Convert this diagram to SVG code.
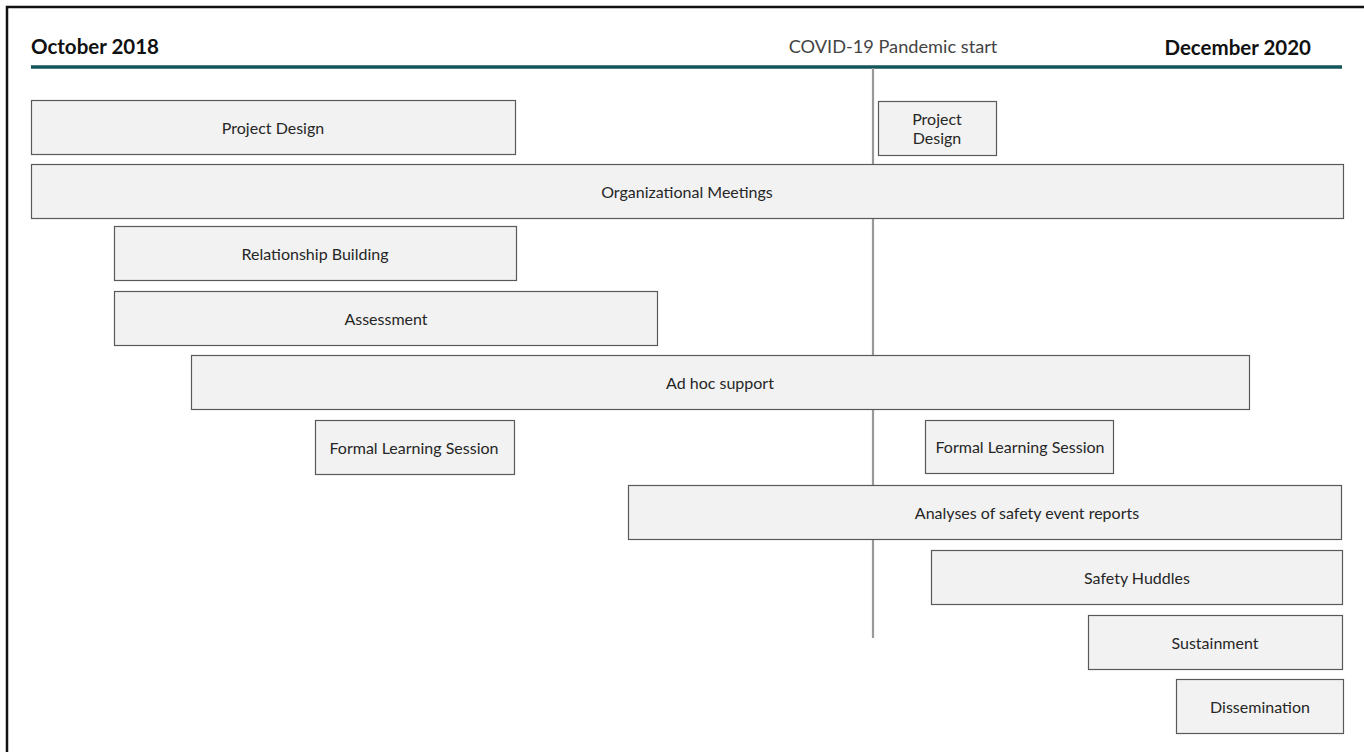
<svg xmlns="http://www.w3.org/2000/svg" width="1364" height="752" viewBox="0 0 1364 752">
<style>
.bar{fill:#f2f2f2;stroke:#595959;stroke-width:1.2}
.lbl{font-family:Lato,"Liberation Sans",sans-serif;font-size:16px;fill:#262626;text-anchor:middle;dominant-baseline:central}
.hdr{font-family:Lato,"Liberation Sans",sans-serif;font-size:20.5px;font-weight:bold;fill:#111}
</style>
<rect x="0" y="0" width="1364" height="752" fill="#fff"/>
<rect x="7" y="7" width="1400" height="800" fill="none" stroke="#111" stroke-width="2.5"/>
<g id="header">
<text class="hdr" x="31" y="54">October 2018</text>
<text x="893" y="53" style="font-family:Lato,'Liberation Sans',sans-serif;font-size:18.2px;fill:#444;text-anchor:middle">COVID-19 Pandemic start</text>
<text class="hdr" x="1311" y="55" text-anchor="end">December 2020</text>
<line x1="31" y1="67" x2="1342" y2="67" stroke="#135559" stroke-width="3.5"/>
</g>
<g id="connectors">
<line x1="873" y1="68" x2="873" y2="638" stroke="#999" stroke-width="2.2"/>
</g>
<g id="n1"><rect class="bar" x="31.5" y="100.5" width="484" height="54"/><text class="lbl" x="273" y="127">Project Design</text></g>
<g id="n2"><rect class="bar" x="878.5" y="101.5" width="118" height="54"/><text class="lbl" x="937" y="118.5">Project</text><text class="lbl" x="937" y="137.5">Design</text></g>
<g id="n3"><rect class="bar" x="31.5" y="164.5" width="1312" height="54"/><text class="lbl" x="687" y="191">Organizational Meetings</text></g>
<g id="n4"><rect class="bar" x="114.5" y="226.5" width="402" height="54"/><text class="lbl" x="315" y="253">Relationship Building</text></g>
<g id="n5"><rect class="bar" x="114.5" y="291.5" width="543" height="54"/><text class="lbl" x="386" y="318">Assessment</text></g>
<g id="n6"><rect class="bar" x="191.5" y="355.5" width="1058" height="54"/><text class="lbl" x="720" y="382">Ad hoc support</text></g>
<g id="n7"><rect class="bar" x="315.5" y="420.5" width="199" height="54"/><text class="lbl" x="414" y="447">Formal Learning Session</text></g>
<g id="n8"><rect class="bar" x="925.5" y="420.5" width="188" height="53"/><text class="lbl" x="1020" y="446">Formal Learning Session</text></g>
<g id="n9"><rect class="bar" x="628.5" y="485.5" width="713" height="54"/><text class="lbl" x="1027" y="512">Analyses of safety event reports</text></g>
<g id="n10"><rect class="bar" x="931.5" y="550.5" width="411" height="54"/><text class="lbl" x="1137" y="577">Safety Huddles</text></g>
<g id="n11"><rect class="bar" x="1088.5" y="615.5" width="254" height="54"/><text class="lbl" x="1215" y="642">Sustainment</text></g>
<g id="n12"><rect class="bar" x="1176.5" y="679.5" width="167" height="54"/><text class="lbl" x="1260" y="706">Dissemination</text></g>
</svg>
